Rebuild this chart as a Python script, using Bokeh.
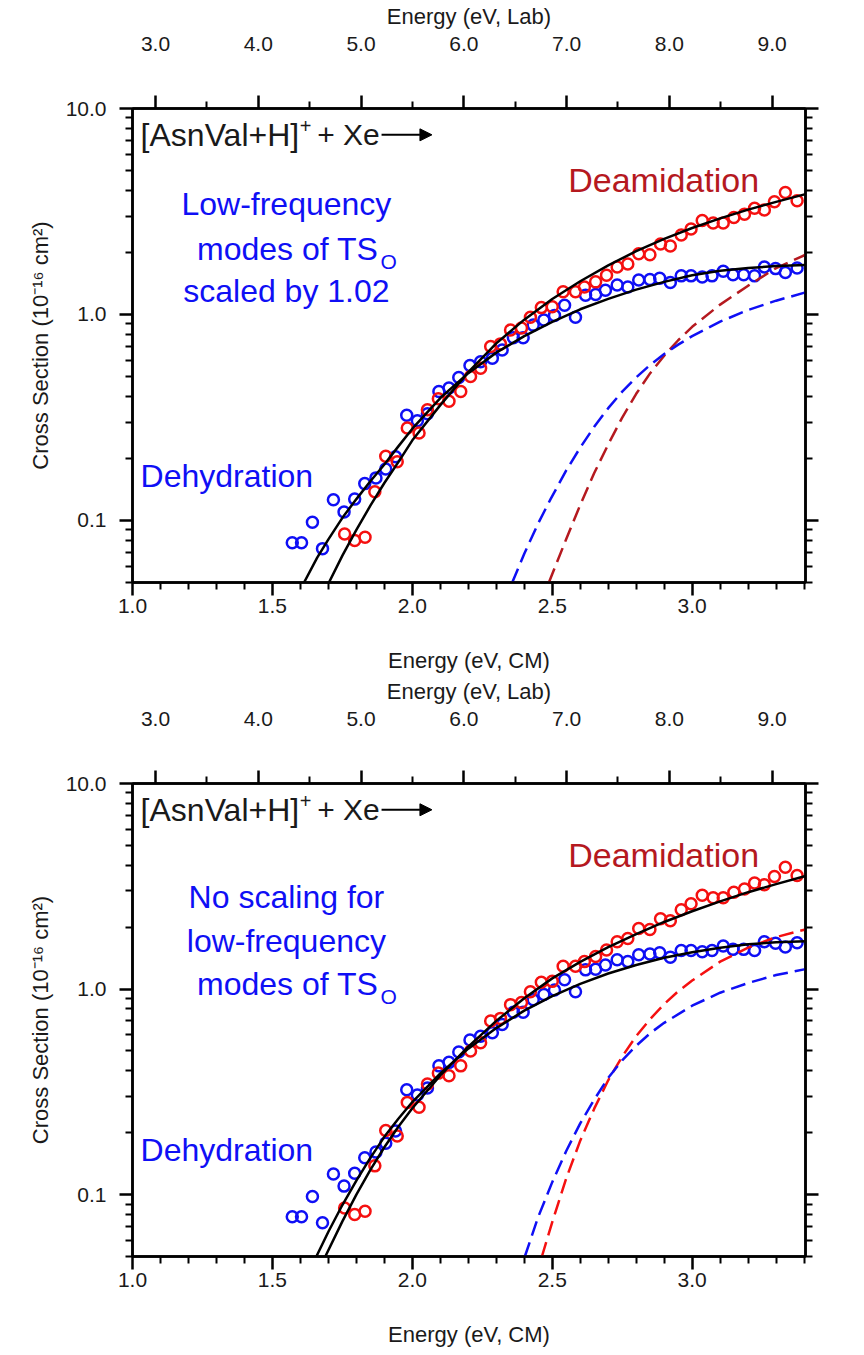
from bokeh.plotting import figure
from bokeh.models import (Range1d, LinearAxis, LogAxis, FixedTicker, CustomJSTickFormatter,
                          Label, Arrow, NormalHead)
from bokeh.layouts import column
from bokeh.embed import file_html
from bokeh.resources import INLINE

FONT = "Liberation Sans"

# ---------------- data ----------------
blue_E = [1.571, 1.604, 1.643, 1.679, 1.718, 1.756, 1.794, 1.830, 1.870, 1.905,
          1.940, 1.980, 2.018, 2.054, 2.095, 2.131, 2.166, 2.206, 2.244, 2.286,
          2.321, 2.361, 2.396, 2.432, 2.470, 2.508, 2.544, 2.583, 2.619, 2.655,
          2.690, 2.732, 2.770, 2.809, 2.849, 2.884, 2.922, 2.961, 2.996, 3.036,
          3.071, 3.111, 3.146, 3.184, 3.223, 3.258, 3.298, 3.333, 3.375]
blue_sig = [0.078, 0.078, 0.098, 0.073, 0.126, 0.110, 0.127, 0.151, 0.161, 0.178,
            0.204, 0.324, 0.305, 0.330, 0.423, 0.440, 0.494, 0.565, 0.590, 0.613,
            0.672, 0.771, 0.771, 0.888, 0.940, 0.990, 1.109, 0.970, 1.24, 1.25,
            1.31, 1.39, 1.36, 1.47, 1.48, 1.50, 1.43, 1.54, 1.54, 1.52,
            1.54, 1.62, 1.56, 1.56, 1.54, 1.70, 1.67, 1.60, 1.68]

red_E = [1.758, 1.794, 1.831, 1.866, 1.905, 1.946, 1.982, 2.024, 2.054, 2.093,
         2.131, 2.173, 2.208, 2.244, 2.280, 2.315, 2.351, 2.390, 2.422, 2.461,
         2.500, 2.539, 2.583, 2.615, 2.655, 2.694, 2.732, 2.770, 2.809, 2.849,
         2.887, 2.922, 2.961, 2.996, 3.036, 3.075, 3.111, 3.149, 3.187, 3.223,
         3.258, 3.294, 3.333, 3.375]
red_sig = [0.086, 0.080, 0.083, 0.138, 0.205, 0.193, 0.281, 0.266, 0.345, 0.39,
           0.379, 0.423, 0.50, 0.548, 0.70, 0.72, 0.84, 0.86, 0.97, 1.08,
           1.09, 1.29, 1.29, 1.36, 1.44, 1.55, 1.70, 1.76, 1.97, 1.95,
           2.20, 2.15, 2.43, 2.60, 2.86, 2.78, 2.78, 2.96, 3.07, 3.28,
           3.22, 3.53, 3.91, 3.57]

# top panel model curves
top_deam_E = [1.702, 1.75, 1.80, 1.85, 1.90, 1.95, 2.00, 2.10, 2.20, 2.30, 2.40,
              2.50, 2.60, 2.70, 2.80, 2.90, 3.00, 3.10, 3.20, 3.30, 3.405]
top_deam_sig = [0.05, 0.0675, 0.090, 0.118, 0.152, 0.192, 0.245, 0.363, 0.525, 0.724, 0.944,
                1.19, 1.45, 1.73, 2.03, 2.33, 2.63, 2.93, 3.23, 3.52, 3.84]
top_dehy_E = [1.613, 1.66, 1.70, 1.75, 1.80, 1.85, 1.90, 1.95, 2.00, 2.10, 2.20, 2.30,
              2.40, 2.50, 2.60, 2.70, 2.80, 2.90, 3.00, 3.10, 3.20, 3.30, 3.405]
top_dehy_sig = [0.05, 0.066, 0.081, 0.103, 0.127, 0.155, 0.187, 0.229, 0.279, 0.393, 0.519, 0.653,
                0.785, 0.92, 1.06, 1.19, 1.32, 1.44, 1.55, 1.63, 1.68, 1.72, 1.74]
top_dashR_E = [2.488, 2.55, 2.60, 2.65, 2.70, 2.75, 2.80, 2.85, 2.90, 2.95, 3.00,
               3.10, 3.20, 3.30, 3.405]
top_dashR_sig = [0.05, 0.0813, 0.119, 0.17, 0.234, 0.316, 0.412, 0.519, 0.631, 0.75, 0.871,
                 1.117, 1.38, 1.68, 1.95]
top_dashB_E = [2.357, 2.40, 2.45, 2.494, 2.55, 2.60, 2.65, 2.70, 2.75, 2.80, 2.85, 2.90,
               2.95, 3.00, 3.10, 3.20, 3.30, 3.405]
top_dashB_sig = [0.05, 0.069, 0.097, 0.127, 0.175, 0.226, 0.285, 0.351, 0.422, 0.495, 0.569, 0.643,
                 0.714, 0.785, 0.923, 1.052, 1.167, 1.28]

# bottom panel model curves
bot_deam_E = [1.689, 1.75, 1.80, 1.85, 1.90, 1.95, 2.00, 2.10, 2.20, 2.30, 2.40,
              2.50, 2.60, 2.70, 2.80, 2.90, 3.00, 3.10, 3.20, 3.30, 3.405]
bot_deam_sig = [0.05, 0.0741, 0.10, 0.132, 0.17, 0.214, 0.263, 0.38, 0.525, 0.70, 0.902,
                1.127, 1.355, 1.60, 1.85, 2.12, 2.39, 2.67, 2.96, 3.24, 3.55]
bot_dehy_E = [1.657, 1.70, 1.75, 1.80, 1.85, 1.90, 1.95, 2.00, 2.10, 2.20, 2.30, 2.40,
              2.50, 2.60, 2.70, 2.80, 2.90, 3.00, 3.10, 3.20, 3.30, 3.405]
bot_dehy_sig = [0.05, 0.066, 0.089, 0.117, 0.151, 0.191, 0.234, 0.282, 0.389, 0.513, 0.646, 0.785,
                0.923, 1.06, 1.19, 1.31, 1.42, 1.51, 1.59, 1.65, 1.69, 1.71]
bot_dashR_E = [2.463, 2.50, 2.55, 2.60, 2.65, 2.70, 2.75, 2.80, 2.85, 2.90, 2.95, 3.00,
               3.10, 3.20, 3.30, 3.405]
bot_dashR_sig = [0.05, 0.0735, 0.12, 0.183, 0.262, 0.36, 0.47, 0.59, 0.715, 0.845, 0.975, 1.10,
                 1.36, 1.59, 1.79, 1.95]
bot_dashB_E = [2.402, 2.45, 2.50, 2.55, 2.60, 2.65, 2.70, 2.75, 2.80, 2.85, 2.90, 3.00,
               3.10, 3.20, 3.30, 3.405]
bot_dashB_sig = [0.05, 0.078, 0.115, 0.163, 0.222, 0.29, 0.37, 0.45, 0.53, 0.61, 0.685, 0.83,
                 0.96, 1.07, 1.17, 1.25]

# ticks
x_major = [1.0, 1.5, 2.0, 2.5, 3.0]
x_minor = [1.1, 1.2, 1.3, 1.4, 1.6, 1.7, 1.8, 1.9, 2.1, 2.2, 2.3, 2.4, 2.6, 2.7, 2.8, 2.9, 3.1, 3.2, 3.3, 3.4]
lab_major = [3.0, 4.0, 5.0, 6.0, 7.0, 8.0, 9.0]
lab_minor = [3.5, 4.5, 5.5, 6.5, 7.5, 8.5]
y_major = [0.1, 1.0, 10.0]
y_minor = [0.05, 0.06, 0.07, 0.08, 0.09, 0.2, 0.3, 0.4, 0.5, 0.6, 0.7, 0.8, 0.9,
           2, 3, 4, 5, 6, 7, 8, 9]

BLUE = "#0F0FF5"
RED = "#F51010"
DARKRED = "#B5191F"
TXT = "#1A1A1A"

fmt1 = CustomJSTickFormatter(code="return tick.toFixed(1)")


def style_axis(ax, labels=True):
    ax.axis_line_width = 2.5
    ax.major_tick_line_width = 2.5
    ax.minor_tick_line_width = 2
    ax.major_tick_out = 13
    ax.major_tick_in = 0
    ax.minor_tick_out = 7
    ax.minor_tick_in = 0
    ax.major_label_text_font = FONT
    ax.major_label_text_font_size = "21px"
    ax.major_label_text_color = TXT
    ax.axis_label_text_font = FONT
    ax.axis_label_text_font_size = "22px"
    ax.axis_label_text_font_style = "normal"
    ax.axis_label_text_color = TXT
    if not labels:
        ax.major_label_text_alpha = 0


def make_panel(height, top_border, bottom_border, curves, dash_red_color, note_lines, note_ys, note_sub):
    p = figure(width=848, height=height, y_axis_type="log",
               x_range=Range1d(1.0, 3.405), y_range=Range1d(0.05, 10.0),
               output_backend="svg", toolbar_location=None,
               min_border_left=132, min_border_right=43,
               min_border_top=top_border, min_border_bottom=bottom_border)
    p.xgrid.visible = False
    p.ygrid.visible = False
    p.outline_line_color = "black"
    p.outline_line_width = 2.5
    p.background_fill_color = "white"
    p.border_fill_color = "white"

    xa = p.xaxis[0]
    xa.ticker = FixedTicker(ticks=x_major, minor_ticks=x_minor)
    xa.formatter = fmt1
    xa.axis_label = "Energy (eV, CM)"
    style_axis(xa)
    xa.major_label_standoff = 3
    xa.axis_label_standoff = 32

    ya = p.yaxis[0]
    ya.ticker = FixedTicker(ticks=y_major, minor_ticks=y_minor)
    ya.formatter = fmt1
    ya.axis_label = "Cross Section (10\u207b\u00b9\u2076 cm\u00b2)"
    style_axis(ya)
    ya.major_label_standoff = 13
    ya.axis_label_standoff = 10

    p.extra_x_ranges = {"lab": Range1d(2.776, 9.325)}
    ta = LinearAxis(x_range_name="lab", ticker=FixedTicker(ticks=lab_major, minor_ticks=lab_minor),
                    formatter=fmt1, axis_label="Energy (eV, Lab)")
    style_axis(ta)
    ta.major_label_standoff = 45
    ta.axis_label_standoff = 5
    p.add_layout(ta, "above")

    ra = LogAxis(ticker=FixedTicker(ticks=y_major, minor_ticks=y_minor), formatter=fmt1)
    style_axis(ra, labels=False)
    p.add_layout(ra, "right")

    # data points
    p.scatter(blue_E, blue_sig, marker="circle", size=11, fill_color=None,
              line_color=BLUE, line_width=2.5)
    p.scatter(red_E, red_sig, marker="circle", size=11, fill_color=None,
              line_color=RED, line_width=2.5)

    (dE, dS), (hE, hS), (rE, rS), (bE, bS) = curves
    p.line(rE, rS, line_color=dash_red_color, line_width=2.5, line_dash="15 7")
    p.line(bE, bS, line_color=BLUE, line_width=2.5, line_dash="15 7")
    p.line(dE, dS, line_color="black", line_width=2.5)
    p.line(hE, hS, line_color="black", line_width=2.5)

    # annotations
    p.add_layout(Label(x=1.029, y=7.45, text="[AsnVal+H]", text_font=FONT, text_font_size="32px",
                       text_baseline="middle", text_color=TXT))
    p.add_layout(Label(x=1.598, y=8.2, text="+", text_font=FONT, text_font_size="20px",
                       text_baseline="middle", text_color=TXT))
    p.add_layout(Label(x=1.660, y=7.45, text="+ Xe", text_font=FONT, text_font_size="30px",
                       text_baseline="middle", text_color=TXT))
    p.add_layout(Arrow(end=NormalHead(size=12, fill_color="black", line_color="black"),
                       x_start=1.89, y_start=7.45, x_end=2.07, y_end=7.45,
                       line_width=2, line_color="black"))
    p.add_layout(Label(x=2.557, y=4.5, text="Deamidation", text_font=FONT, text_font_size="34px",
                       text_baseline="middle", text_color=DARKRED))
    for t, yy in zip(note_lines, note_ys):
        p.add_layout(Label(x=1.55, y=yy, text=t, text_font=FONT, text_font_size="32px",
                           text_align="center", text_baseline="middle", text_color=BLUE))
    sx, sy, st, sox, soy = note_sub
    p.add_layout(Label(x=sx, y=sy, text=st, text_font=FONT, text_font_size="32px",
                       text_align="right", text_baseline="middle", text_color=BLUE))
    p.add_layout(Label(x=sox, y=soy, text="O", text_font=FONT, text_font_size="21px",
                       text_align="left", text_baseline="middle", text_color=BLUE))
    p.add_layout(Label(x=1.029, y=0.165, text="Dehydration", text_font=FONT, text_font_size="32px",
                       text_baseline="middle", text_color=BLUE))
    return p


p1 = make_panel(675, 106, 93,
                [(top_deam_E, top_deam_sig), (top_dehy_E, top_dehy_sig),
                 (top_dashR_E, top_dashR_sig), (top_dashB_E, top_dashB_sig)],
                DARKRED,
                ["Low-frequency", "scaled by 1.02"], [3.44, 1.306],
                (1.879, 2.08, "modes of TS", 1.886, 1.80))

p2 = make_panel(674, 106, 92,
                [(bot_deam_E, bot_deam_sig), (bot_dehy_E, bot_dehy_sig),
                 (bot_dashR_E, bot_dashR_sig), (bot_dashB_E, bot_dashB_sig)],
                RED,
                ["No scaling for", "low-frequency"], [2.81, 1.705],
                (1.879, 1.06, "modes of TS", 1.886, 0.92))

layout = column(p1, p2, spacing=0)
open("out.html", "w").write(file_html(layout, INLINE))
